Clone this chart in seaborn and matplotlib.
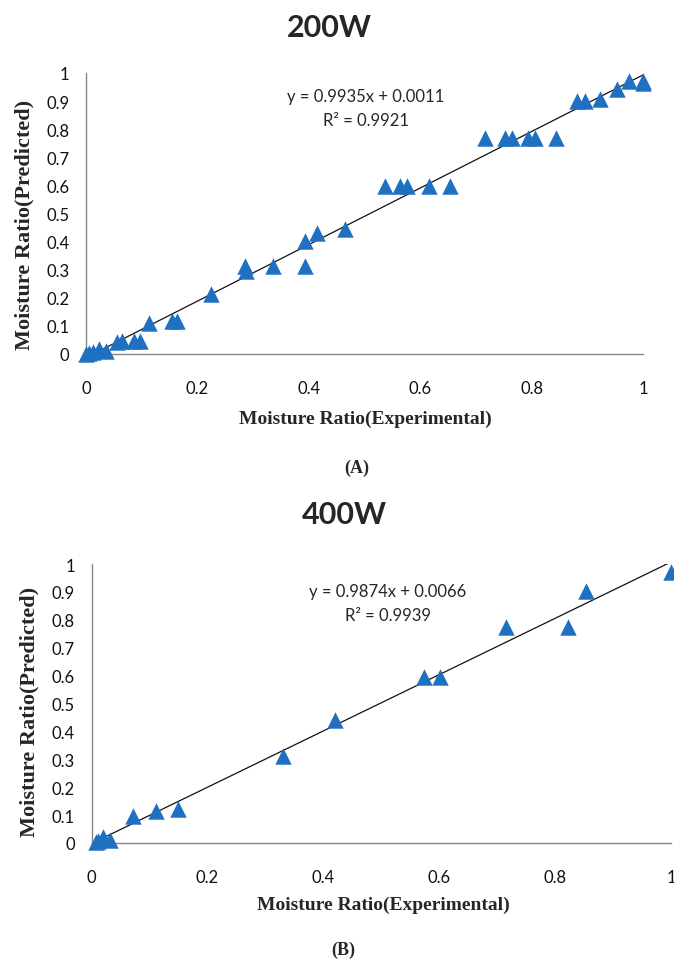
import matplotlib
matplotlib.use("Agg")
import matplotlib.pyplot as plt
import seaborn as sns

# 200W: experimental vs predicted moisture ratio
x_200 = [0.0, 0.005, 0.013, 0.024, 0.036, 0.056, 0.064, 0.086, 0.097, 0.114, 0.154, 0.164,
         0.224, 0.285, 0.287, 0.335, 0.393, 0.393, 0.414, 0.465, 0.537, 0.564, 0.576, 0.615,
         0.653, 0.716, 0.752, 0.764, 0.794, 0.806, 0.844, 0.882, 0.896, 0.923, 0.953, 0.974,
         1.0, 1.0]
y_200 = [0.0, 0.002, 0.007, 0.018, 0.012, 0.042, 0.047, 0.047, 0.047, 0.112, 0.117, 0.117,
         0.212, 0.313, 0.296, 0.313, 0.402, 0.313, 0.432, 0.445, 0.599, 0.599, 0.599, 0.599,
         0.599, 0.77, 0.77, 0.77, 0.77, 0.77, 0.77, 0.901, 0.901, 0.907, 0.943, 0.972,
         0.972, 0.964]

# 400W
x_400 = [0.008, 0.012, 0.019, 0.032, 0.071, 0.111, 0.15, 0.331, 0.42, 0.573, 0.601, 0.715,
         0.822, 0.854, 1.0]
y_400 = [0.002, 0.006, 0.02, 0.012, 0.098, 0.116, 0.122, 0.313, 0.44, 0.594, 0.594, 0.774,
         0.774, 0.905, 0.97]

x_ticks = [0, 0.2, 0.4, 0.6, 0.8, 1]
x_ticklabels = ["0", "0.2", "0.4", "0.6", "0.8", "1"]
y_ticks = [0, 0.1, 0.2, 0.3, 0.4, 0.5, 0.6, 0.7, 0.8, 0.9, 1]
y_ticklabels = ["0", "0.1", "0.2", "0.3", "0.4", "0.5", "0.6", "0.7", "0.8", "0.9", "1"]

eq_200 = ["y = 0.9935x + 0.0011", "R² = 0.9921"]
eq_400 = ["y = 0.9874x + 0.0066", "R² = 0.9939"]

W, H = 674, 962
BLUE = "#1f70c1"
GREY = "#878787"

sns.set_style("white")
plt.rcParams["font.family"] = ["Lato", "DejaVu Sans"]


def px(x, y):
    return x / W, 1 - y / H


def draw_panel(fig, box, xs, ys, eq, eq_pos, title, title_pos, xlab_pos, ylab_pos, cap, cap_pos):
    left, top, right, bottom = box
    ax = fig.add_axes([left / W, 1 - bottom / H, (right - left) / W, (bottom - top) / H])
    sns.regplot(x=xs, y=ys, ax=ax, scatter=False, ci=None, truncate=True,
                line_kws={"color": "#111111", "linewidth": 0.9})
    sns.scatterplot(x=xs, y=ys, ax=ax, marker="^", s=140, color=BLUE,
                    edgecolor=BLUE, linewidth=0, clip_on=False, zorder=3)
    ax.set_xlim(0, 1)
    ax.set_ylim(0, 1)
    ax.set_xticks(x_ticks)
    ax.set_xticklabels(x_ticklabels)
    ax.set_yticks(y_ticks)
    ax.set_yticklabels(y_ticklabels)
    for s in ["top", "right"]:
        ax.spines[s].set_visible(False)
    for s in ["left", "bottom"]:
        ax.spines[s].set_color(GREY)
        ax.spines[s].set_linewidth(1.0)
    ax.tick_params(axis="both", direction="out", length=6, width=1, color=GREY,
                   labelsize=12, labelcolor="#111111")
    ax.tick_params(axis="x", pad=13)
    ax.tick_params(axis="y", pad=6)
    ax.set_xlabel("")
    ax.set_ylabel("")

    fig.text(*px(*title_pos), title, ha="center", va="center", fontsize=22, fontweight="bold")
    fig.text(*px(eq_pos[0], eq_pos[1]), eq[0], ha="center", va="center", fontsize=12)
    fig.text(*px(eq_pos[0], eq_pos[1] + 24), eq[1], ha="center", va="center", fontsize=12)
    fig.text(*px(*xlab_pos), "Moisture Ratio(Experimental)", ha="center", va="center",
             fontsize=14, fontweight="bold", family="Liberation Serif")
    fig.text(*px(*ylab_pos), "Moisture Ratio(Predicted)", ha="center", va="center",
             rotation=90, fontsize=16, fontweight="bold", family="Liberation Serif")
    fig.text(*px(*cap_pos), cap, ha="center", va="center", fontsize=13,
             fontweight="bold", family="Liberation Serif")
    return ax


fig = plt.figure(figsize=(W / 100, H / 100), dpi=100)

draw_panel(fig, (86, 74, 643, 355), x_200, y_200, eq_200, (366, 97),
           "200W", (329, 28), (365, 419), (24, 225), "(A)", (357, 468))
draw_panel(fig, (91.5, 565, 671, 844), x_400, y_400, eq_400, (388, 592),
           "400W", (344, 515), (383, 905), (29, 712), "(B)", (343, 950))

fig.savefig("out.png", dpi=100)
